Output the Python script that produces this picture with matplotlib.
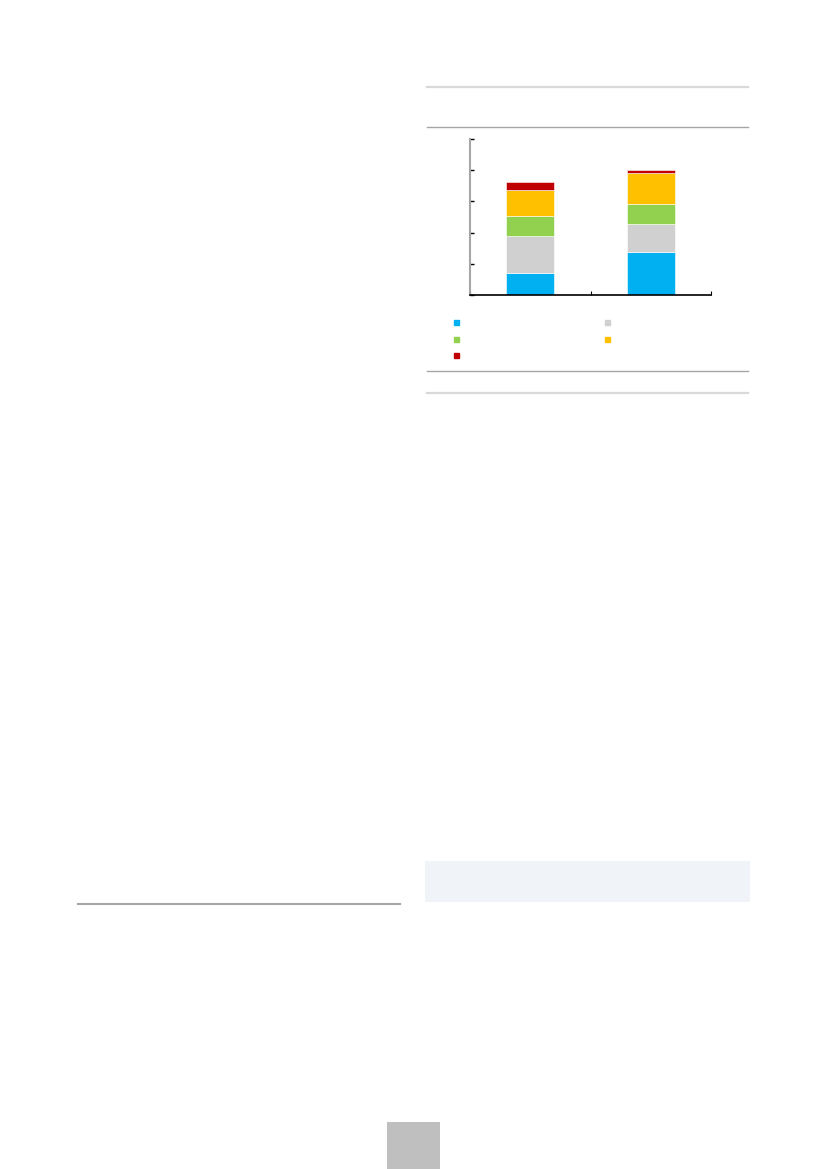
import matplotlib
matplotlib.use("Agg")
import matplotlib.pyplot as plt
from matplotlib.lines import Line2D
from matplotlib.patches import Rectangle
import numpy as np

W, H = 827, 1169

# data (units of the y grid)
categories = ["", ""]
blue = [0.70, 1.38]
grey = [1.20, 0.90]
green = [0.63, 0.65]
yellow = [0.85, 0.99]
red = [0.24, 0.09]
series = [blue, grey, green, yellow, red]
colors = ["#00B0F0", "#D0D0D0", "#92D050", "#FFC000", "#C00000"]
labels = ["", "", "", "", ""]
y_ticks = [0, 1, 2, 3, 4, 5]


def fx(px):
    return px / W


def fy(px):
    return 1 - px / H


def hline(y, x0, x1, color, lw):
    fig.add_artist(Line2D([fx(x0), fx(x1)], [fy(y), fy(y)], color=color, lw=lw,
                          transform=fig.transFigure))


fig = plt.figure(figsize=(W / 100, H / 100), dpi=100)

# page decoration
hline(87, 427, 748, "#d9d9d9", 1.6)
hline(127, 427, 748, "#a6a6a6", 1.0)
hline(371, 427, 748, "#a6a6a6", 1.0)
hline(392.5, 427, 748, "#d9d9d9", 1.6)
hline(904, 78, 400, "#a6a6a6", 1.5)
fig.add_artist(Rectangle((fx(425), fy(902)), fx(750) - fx(425), fy(861) - fy(902),
                         transform=fig.transFigure, color="#F0F4F9", lw=0))
fig.add_artist(Rectangle((fx(387), fy(1169)), fx(440) - fx(387), fy(1122) - fy(1169),
                         transform=fig.transFigure, color="#BFBFBF", lw=0))

# chart
ax = fig.add_axes([fx(470), fy(295), fx(711) - fx(470), fy(139) - fy(295)])
x = np.arange(len(categories))
bottom = np.zeros(len(categories))
handles = []
for vals, c in zip(series, colors):
    ax.bar(x, vals, 0.4, bottom=bottom, color=c, edgecolor="white", linewidth=0.4)
    bottom += np.array(vals)
    handles.append(Line2D([], [], marker="s", ls="", color=c, markersize=3.6))

ax.set_xlim(-0.5, 1.5)
ax.set_ylim(0, 5)
ax.set_yticks(y_ticks)
ax.set_yticklabels([])
ax.set_xticks([-0.5, 0.5, 1.5])
ax.set_xticklabels([])
ax.tick_params(axis="y", direction="in", length=3, width=1, color="black")
ax.tick_params(axis="x", direction="in", length=3, width=0.8, color="black")
for s in ["top", "right"]:
    ax.spines[s].set_visible(False)
ax.spines["left"].set_color("#a6a6a6")
ax.spines["left"].set_linewidth(1.5)
ax.spines["bottom"].set_color("black")
ax.spines["bottom"].set_linewidth(1.2)

# legend, row-wise: blue grey / green yellow / red
order = [0, 2, 4, 1, 3]
fig.legend([handles[i] for i in order], [labels[i] for i in order], ncol=2,
           loc="upper left", bbox_to_anchor=(fx(452.5), fy(317.5)), frameon=False,
           fontsize=7, handlelength=0.8, handletextpad=0.2, borderpad=0,
           borderaxespad=0, labelspacing=0.68, columnspacing=14.5)

fig.savefig("out.png", dpi=100)
